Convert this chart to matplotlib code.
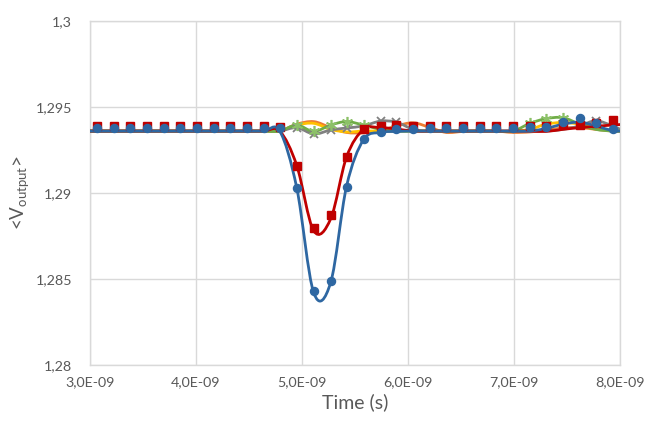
import numpy as np
import matplotlib
matplotlib.use('Agg')
import matplotlib.pyplot as plt
from matplotlib.path import Path
from matplotlib.patches import PathPatch
from matplotlib.ticker import FuncFormatter, FixedLocator

plt.rcParams['font.family'] = ['Lato', 'DejaVu Sans']
plt.rcParams['mathtext.default'] = 'regular'

# marker sample times (ns)
t_mk = [3.07, 3.23, 3.38, 3.54, 3.70, 3.85, 4.01, 4.17, 4.32, 4.48, 4.64, 4.79,
        4.95, 5.11, 5.27, 5.42, 5.58, 5.74, 5.89, 6.05, 6.21, 6.36, 6.52, 6.68,
        6.83, 6.99, 7.15, 7.30, 7.46, 7.62, 7.77, 7.93]

blue_mk = [1.2938, 1.2938, 1.2938, 1.2938, 1.2938, 1.2938, 1.2938, 1.2938, 1.2938, 1.2938, 1.2938, 1.2938,
           1.2903, 1.2843, 1.2849, 1.29035, 1.29315, 1.29355, 1.2937, 1.29375, 1.2938, 1.2938, 1.2938, 1.2938,
           1.2938, 1.2938, 1.29385, 1.29385, 1.29415, 1.29435, 1.29405, 1.29375]
red_mk = [1.29388, 1.29388, 1.29388, 1.29388, 1.29388, 1.29388, 1.29388, 1.29388, 1.29388, 1.29388, 1.29388, 1.29385,
          1.29157, 1.28797, 1.28872, 1.29209, 1.29372, 1.2939, 1.29395, 1.29388, 1.29388, 1.29388, 1.29388, 1.29388,
          1.29388, 1.29388, 1.29388, 1.29388, 1.2940, 1.29396, 1.29407, 1.29424]

green_mk_t = [4.95, 5.11, 5.27, 5.42, 5.58, 7.15, 7.30, 7.46]
green_mk = [1.29395, 1.29358, 1.29395, 1.29415, 1.29395, 1.29405, 1.29432, 1.29438]
gray_mk_t = [4.95, 5.11, 5.27, 5.42, 5.74, 5.89, 7.77]
gray_mk = [1.2938, 1.29343, 1.29366, 1.29378, 1.29418, 1.29412, 1.2942]

# smooth line series (ns)
t_ln = [3.00, 3.07, 3.23, 3.38, 3.54, 3.70, 3.85, 4.01, 4.17, 4.32, 4.48, 4.64, 4.79,
        4.95, 5.11, 5.27, 5.42, 5.58, 5.74, 5.89, 6.05, 6.21, 6.36, 6.52, 6.68,
        6.83, 6.99, 7.15, 7.30, 7.46, 7.62, 7.77, 7.93, 8.00]

orange_ln = [1.2936, 1.2936, 1.2936, 1.2936, 1.2936, 1.2936, 1.2936, 1.2936, 1.2936, 1.2936, 1.2936, 1.2936, 1.2936,
             1.2940, 1.29415, 1.2938, 1.29352, 1.2935, 1.29362, 1.2939, 1.29408, 1.2938, 1.29352, 1.29358, 1.2936,
             1.2936, 1.29352, 1.29355, 1.29365, 1.29378, 1.2938, 1.2937, 1.2936, 1.2936]
yellow_ln = [1.2936, 1.2936, 1.2936, 1.2936, 1.2936, 1.2936, 1.2936, 1.2936, 1.2936, 1.2936, 1.2936, 1.2936, 1.2936,
             1.29395, 1.29405, 1.2937, 1.29355, 1.2936, 1.2936, 1.2936, 1.2936, 1.2936, 1.2936, 1.2936, 1.2936,
             1.2936, 1.2936, 1.2937, 1.2940, 1.2941, 1.2940, 1.2938, 1.2936, 1.2936]
gray_ln = [1.2936, 1.2936, 1.2936, 1.2936, 1.2936, 1.2936, 1.2936, 1.2936, 1.2936, 1.2936, 1.2936, 1.2936, 1.2936,
           1.2938, 1.29343, 1.29366, 1.29378, 1.2939, 1.29418, 1.29412, 1.2937, 1.2936, 1.2936, 1.2936, 1.2936,
           1.2936, 1.2936, 1.2936, 1.2936, 1.2937, 1.2939, 1.2942, 1.2939, 1.2937]
green_ln = [1.2936, 1.2936, 1.2936, 1.2936, 1.2936, 1.2936, 1.2936, 1.2936, 1.2936, 1.2936, 1.2936, 1.2936, 1.2936,
            1.29395, 1.29358, 1.29395, 1.29415, 1.29395, 1.2937, 1.2936, 1.2936, 1.2936, 1.2936, 1.2936, 1.2936,
            1.2936, 1.2936, 1.29405, 1.29432, 1.29438, 1.2940, 1.2937, 1.2936, 1.2936]
red_ln = [1.2936, 1.2936, 1.2936, 1.2936, 1.2936, 1.2936, 1.2936, 1.2936, 1.2936, 1.2936, 1.2936, 1.2936, 1.2936,
          1.2916, 1.2878, 1.2885, 1.2921, 1.2937, 1.2938, 1.29372, 1.2936, 1.2936, 1.2936, 1.2936, 1.2936,
          1.2936, 1.2936, 1.2936, 1.29358, 1.2937, 1.2938, 1.29388, 1.29395, 1.29398]
blue_ln = [1.2936, 1.2936, 1.2936, 1.2936, 1.2936, 1.2936, 1.2936, 1.2936, 1.2936, 1.2936, 1.2936, 1.2936, 1.2936,
           1.2903, 1.2842, 1.2848, 1.2904, 1.2931, 1.29352, 1.29358, 1.2936, 1.2936, 1.2936, 1.2936, 1.2936,
           1.2936, 1.2936, 1.2936, 1.29375, 1.2940, 1.29412, 1.2939, 1.29362, 1.2936]

x_ticks = [3e-9, 4e-9, 5e-9, 6e-9, 7e-9, 8e-9]
y_ticks = [1.28, 1.285, 1.29, 1.295, 1.30]

c_blue = '#2E67A2'
c_red = '#C00000'
c_green = '#70AD47'
c_gray = '#808080'
c_orange = '#ED7D31'
c_yellow = '#FFC000'


def smooth_path(x, y):
    # Excel-style smoothed line (Catmull-Rom as cubic Bezier segments)
    pts = np.column_stack([x, y])
    n = len(pts)
    verts = [pts[0]]
    codes = [Path.MOVETO]
    for i in range(n - 1):
        p0 = pts[i - 1] if i > 0 else pts[i]
        p1 = pts[i]
        p2 = pts[i + 1]
        p3 = pts[i + 2] if i + 2 < n else pts[i + 1]
        verts += [p1 + (p2 - p0) / 6, p2 - (p3 - p1) / 6, p2]
        codes += [Path.CURVE4] * 3
    return Path(verts, codes)


fig = plt.figure(figsize=(6.5, 4.26), dpi=100)
ax = fig.add_axes([0.1385, 0.1432, 0.8155, 0.8075])

tl = np.array(t_ln) * 1e-9
for ys, col in [(orange_ln, c_orange), (yellow_ln, c_yellow), (gray_ln, c_gray),
                (green_ln, c_green), (red_ln, c_red), (blue_ln, c_blue)]:
    ax.add_patch(PathPatch(smooth_path(tl, ys), fill=False, ec=col, lw=2,
                           capstyle='round', joinstyle='round', zorder=3))

ax.plot(np.array(gray_mk_t) * 1e-9, gray_mk, ls='none', marker='x', ms=6, mew=1.3,
        color=c_gray, zorder=4)
ax.plot(np.array(green_mk_t) * 1e-9, green_mk, ls='none', marker=(6, 2, 0), ms=8, mew=1.2,
        color='#8CC168', zorder=4)
ax.plot(np.array(t_mk) * 1e-9, red_mk, ls='none', marker='s', ms=6, color=c_red, zorder=5)
ax.plot(np.array(t_mk) * 1e-9, blue_mk, ls='none', marker='o', ms=5.8, color=c_blue, zorder=6)

ax.set_xlim(3e-9, 8e-9)
ax.set_ylim(1.28, 1.30)
ax.xaxis.set_major_locator(FixedLocator(x_ticks))
ax.yaxis.set_major_locator(FixedLocator(y_ticks))
ax.xaxis.set_major_formatter(FuncFormatter(lambda v, p: f"{v * 1e9:.1f}".replace('.', ',') + "E-09"))


def yfmt(v, p):
    s = f"{v:.3f}".rstrip('0').rstrip('.')
    return s.replace('.', ',')


ax.yaxis.set_major_formatter(FuncFormatter(yfmt))
ax.grid(True, color='#D9D9D9', lw=1, zorder=0)
ax.set_axisbelow(True)
for s in ax.spines.values():
    s.set_color('#D9D9D9')
    s.set_linewidth(1)
ax.tick_params(axis='both', length=0, labelsize=10.3, labelcolor='#595959')
ax.tick_params(axis='y', pad=13)
ax.tick_params(axis='x', pad=8)

ax.set_xlabel('Time (s)', fontsize=14, color='#595959', labelpad=4)
ax.set_ylabel(r'<V$_{output}$>', fontsize=13.5, color='#595959', labelpad=3)

fig.savefig('out.png', dpi=100)
